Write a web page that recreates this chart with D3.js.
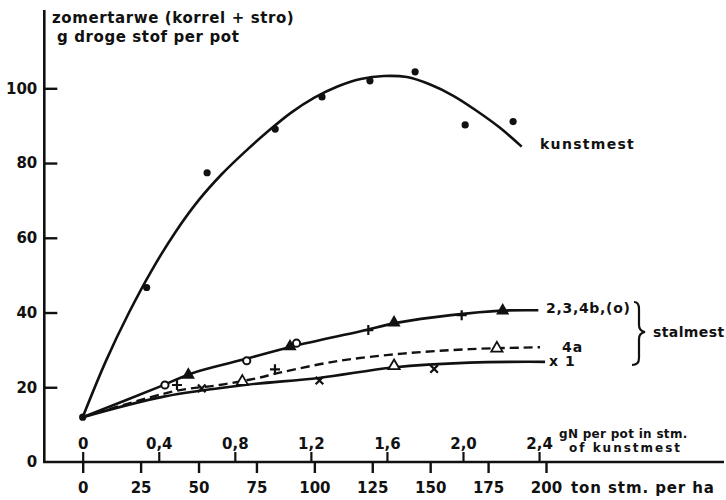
<!DOCTYPE html>
<html><head><meta charset="utf-8">
<script src="https://cdn.jsdelivr.net/npm/d3@7"></script>
<style>
html,body{margin:0;padding:0;background:#fff;}
svg text{font-family:"DejaVu Sans",sans-serif;font-weight:bold;fill:#111;}
</style></head>
<body><svg id="c" width="726" height="500"></svg>
<script>
// ---- data ----
const tonTicks = [0,25,50,75,100,125,150,175,200];
const gNTicks = [0,0.4,0.8,1.2,1.6,2.0,2.4];
const yTicks = [0,20,40,60,80,100];

const origin = [0,12];
// kunstmest observed points (ton stm. equivalent, g)
const kunstT = [27.6,53.7,83.1,103.3,124.0,143.5,165.1,185.8];
const kunstV = [46.7,77.4,89.1,97.7,102.0,104.4,90.2,91.1];
// kunstmest fitted curve
const kunstCurveT = [0,10,20,30,40,50,60,70,80,90,100,110,120,130,140,150,160,170,180,189.5];
const kunstCurveV = [12,27,40,51.5,61.5,70,77,83,88.5,93.5,97.5,100.5,102.5,103.3,103,101,98,94,89.5,84.4];
// stalmest curves
const curveA_T = [0,33,47,68,91,120,136,159,181,196.7];          // 2,3,4b(o)
const curveA_V = [12,20.1,23.7,27.2,31,35,37.3,39.3,40.5,40.6];
const curveB_T = [0,40,59,75,85,110,138,167,197.4];              // 4a (dashed)
const curveB_V = [12,19,20.6,22.4,23.9,27,29,30.2,30.7];
const curveC_T = [0,35,70,102,134,167,199.6];                    // 1
const curveC_V = [12,17.5,20.6,22.5,25.3,26.6,26.8];
// stalmest observed points by symbol
const circT = [35.5,70.8,92.3], circV = [20.6,27.1,31.8];
const plusT = [40.7,83,123.3,163.6], plusV = [20.6,24.8,35.3,39.3];
const triT = [45.6,89.5,134.4,181.3], triV = [23.3,30.9,37.3,40.5];
const crossT = [51.4,102.2,151.7], crossV = [19.7,21.8,24.9];
const otriT = [68.9,134.4,178.8], otriV = [21.5,25.7,30.4];

// ---- chart ----
const svg = d3.select("#c");
const x = d3.scaleLinear().domain([0,200]).range([82.7,546]);
const xN = d3.scaleLinear().domain([0,2.4]).range([x(0), x(197)]);
const y = d3.scaleLinear().domain([0,100]).range([462,88.3]);
const ink = "#111";

// axis lines
svg.append("line").attr("x1",44.3).attr("x2",44.3).attr("y1",10).attr("y2",y(0))
  .attr("stroke",ink).attr("stroke-width",2.6);
svg.append("line").attr("x1",43).attr("x2",724).attr("y1",y(0)).attr("y2",y(0))
  .attr("stroke",ink).attr("stroke-width",2.6);

// y axis
const ya = svg.append("g").attr("transform","translate(44.3,0)")
  .call(d3.axisLeft(y).tickValues(yTicks).tickSize(-13).tickPadding(7));
ya.select(".domain").remove();
ya.selectAll(".tick line").attr("stroke",ink).attr("stroke-width",2.4);
ya.selectAll(".tick text").style("font-size","15px").attr("fill",ink);
ya.selectAll(".tick").filter(d=>d===0).select("line").remove();

// bottom axis
const xa = svg.append("g").attr("transform",`translate(0,${y(0)})`)
  .call(d3.axisBottom(x).tickValues(tonTicks).tickSize(11).tickPadding(9));
xa.select(".domain").remove();
xa.selectAll(".tick line").attr("stroke",ink).attr("stroke-width",2.4);
xa.selectAll(".tick text").style("font-size","15px").attr("fill",ink);

// top (gN) axis
const na = svg.append("g").attr("transform",`translate(0,${y(0)})`)
  .call(d3.axisTop(xN).tickValues(gNTicks).tickSize(10).tickPadding(3)
    .tickFormat(d => d===0 ? "0" : d3.format(".1f")(d).replace(".",",")));
na.select(".domain").remove();
na.selectAll(".tick line").attr("stroke",ink).attr("stroke-width",2.2);
na.selectAll(".tick text").style("font-size","15px").attr("fill",ink);

// axis titles
const t = (s,xx,yy,size,ls,anchor) => svg.append("text").text(s).attr("x",xx).attr("y",yy)
  .style("font-size",size+"px").style("letter-spacing",ls+"px").attr("text-anchor",anchor||"start");
t("zomertarwe (korrel + stro)",52,23,15,0.6);
t("g droge stof per pot",57,42,15,0.6);
t("gN per pot in stm.",559,438,12,0.3);
t("of kunstmest",569,452,12,2);
t("ton stm. per ha",571,493,15,0.9);

// curves
const line = d3.line().x(d=>x(d[0])).y(d=>y(d[1])).curve(d3.curveCatmullRom.alpha(0.5));
const zipT = (a,b) => a.map((v,i)=>[v,b[i]]);
svg.append("path").attr("d",line(zipT(kunstCurveT,kunstCurveV))).attr("fill","none")
  .attr("stroke",ink).attr("stroke-width",2.6);
svg.append("path").attr("d",line(zipT(curveA_T,curveA_V))).attr("fill","none")
  .attr("stroke",ink).attr("stroke-width",2.6);
svg.append("path").attr("d",line(zipT(curveB_T,curveB_V))).attr("fill","none")
  .attr("stroke",ink).attr("stroke-width",2.4).attr("stroke-dasharray","9,5");
svg.append("path").attr("d",line(zipT(curveC_T,curveC_V))).attr("fill","none")
  .attr("stroke",ink).attr("stroke-width",2.6);

// markers
svg.selectAll(".kd").data(zipT(kunstT,kunstV).concat([origin])).join("circle")
  .attr("cx",d=>x(d[0])).attr("cy",d=>y(d[1])).attr("r",3.6).attr("fill",ink);
svg.selectAll(".oc").data(zipT(circT,circV)).join("circle")
  .attr("cx",d=>x(d[0])).attr("cy",d=>y(d[1])).attr("r",3.6).attr("fill","#fff")
  .attr("stroke",ink).attr("stroke-width",2);
const sym = (type,size) => d3.symbol().type(type).size(size)();
svg.selectAll(".pl").data(zipT(plusT,plusV)).join("path")
  .attr("transform",d=>`translate(${x(d[0])},${y(d[1])})`)
  .attr("d","M-5,0H5M0,-5V5").attr("stroke",ink).attr("stroke-width",2.2).attr("fill","none");
svg.selectAll(".cr").data(zipT(crossT,crossV)).join("path")
  .attr("transform",d=>`translate(${x(d[0])},${y(d[1])})`)
  .attr("d","M-3.8,-3.8L3.8,3.8M-3.8,3.8L3.8,-3.8").attr("stroke",ink).attr("stroke-width",2.2).attr("fill","none");
svg.selectAll(".tr").data(zipT(triT,triV)).join("path")
  .attr("transform",d=>`translate(${x(d[0])},${y(d[1])})`)
  .attr("d",sym(d3.symbolTriangle,75)).attr("fill",ink);
svg.selectAll(".ot").data(zipT(otriT,otriV)).join("path")
  .attr("transform",d=>`translate(${x(d[0])},${y(d[1])})`)
  .attr("d",sym(d3.symbolTriangle,55)).attr("fill","#fff").attr("stroke",ink).attr("stroke-width",1.8);

// series labels
t("kunstmest",540,149,14,1.3);
t("2,3,4b,(o)",546,313,14,0.7);
t("4a",562,352,14,1);
t("x  1",549,366,14,1);
t("stalmest",653,337,14,0.4);
// brace
svg.append("path").attr("d","M634,302 Q639,302 639,309 L639,325 Q639,331 645,332 Q639,333 639,339 L639,358 Q639,365 632,365")
  .attr("fill","none").attr("stroke",ink).attr("stroke-width",2.2);
</script></body></html>
